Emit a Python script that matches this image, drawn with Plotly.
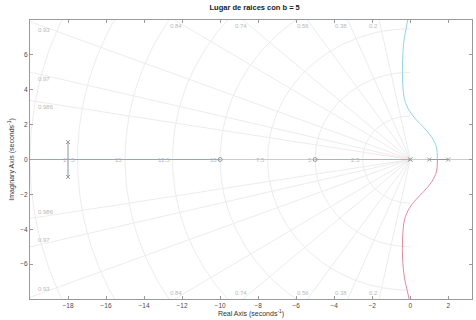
import numpy as np
import plotly.graph_objects as go

# ---- data ----
title_text = "Lugar de raices con b = 5"
x_ticks = [-18, -16, -14, -12, -10, -8, -6, -4, -2, 0, 2]
y_ticks = [-6, -4, -2, 0, 2, 4, 6]
x_range = [-20, 3.25]
y_range = [-8, 8]

pole_re = [-18, -18, 0, 0, 1, 2]
pole_im = [1, -1, 0, 0, 0, 0]
zero_re = [-5, -10]
zero_im = [0, 0]

# branch on negative real axis (from far left to zero at -10)
branch_a_x = [-20, -18, -10]
branch_a_y = [0, 0, 0]
# complex pair at -18 meeting the real axis
branch_b_x = [-18, -18, -18]
branch_b_y = [1, 0, -1]
# red segment from zero at -5 to pole at 0
branch_c_x = [-5, 0]
branch_c_y = [0, 0]
# poles at 1 and 2 meeting at breakaway
branch_d_x = [1, 1.43, 2]
branch_d_y = [0, 0, 0]
# upper branch (cyan)
upper_x = [1.43, 1.38, 1.12, 0.70, 0.30, -0.05, -0.30, -0.40, -0.40, -0.33, -0.22, -0.13]
upper_y = [0.0, 0.70, 1.30, 1.85, 2.30, 2.80, 3.45, 4.50, 5.70, 6.80, 7.50, 8.00]
# lower branch (red)
lower_x = [1.43, 1.38, 1.12, 0.70, 0.30, -0.05, -0.30, -0.40, -0.40, -0.30, -0.16, -0.06]
lower_y = [0.0, -0.70, -1.30, -1.85, -2.30, -2.80, -3.45, -4.50, -5.70, -6.80, -7.50, -8.00]

zeta_vals = [0.2, 0.38, 0.56, 0.74, 0.84, 0.93, 0.97, 0.986]
zeta_labels = ["0.2", "0.38", "0.56", "0.74", "0.84", "0.93", "0.97", "0.986"]
wn_vals = [2.5, 5, 7.5, 10, 12.5, 15, 17.5, 20]
wn_labels = ["2.5", "5", "7.5", "10", "12.5", "15", "17.5", ""]

# ---- styling ----
grid_col = "#ececec"
grid_txt = "#b8b8b8"
axis_col = "#9a9a9a"

fig = go.Figure()

xmin, xmax = x_range
ymin, ymax = y_range

# damping lines
for z in zeta_vals:
    s = np.sqrt(1 - z * z)
    t = min(-xmin / z, ymax / s)
    for sg in (1, -1):
        fig.add_trace(go.Scatter(x=[0, -z * t], y=[0, sg * s * t], mode="lines",
                                 line=dict(color=grid_col, width=1),
                                 hoverinfo="skip", showlegend=False))

# natural frequency arcs
th = np.linspace(np.pi / 2, 3 * np.pi / 2, 200)
for r in wn_vals:
    fig.add_trace(go.Scatter(x=r * np.cos(th), y=r * np.sin(th), mode="lines",
                             line=dict(color=grid_col, width=1),
                             hoverinfo="skip", showlegend=False))

# real axis line
fig.add_trace(go.Scatter(x=[xmin, xmax], y=[0, 0], mode="lines",
                         line=dict(color="#cccccc", width=1),
                         hoverinfo="skip", showlegend=False))

# locus branches
fig.add_trace(go.Scatter(x=branch_a_x, y=branch_a_y, mode="lines",
                         line=dict(color="#93a8ba", width=1), showlegend=False))
fig.add_trace(go.Scatter(x=branch_b_x, y=branch_b_y, mode="lines",
                         line=dict(color="#7f9aa6", width=1), showlegend=False))
fig.add_trace(go.Scatter(x=branch_c_x, y=branch_c_y, mode="lines",
                         line=dict(color="#e899aa", width=1), showlegend=False))
fig.add_trace(go.Scatter(x=branch_d_x, y=branch_d_y, mode="lines",
                         line=dict(color="#8d9aa8", width=1), showlegend=False))
fig.add_trace(go.Scatter(x=upper_x, y=upper_y, mode="lines", line_shape="spline",
                         line=dict(color="#8fd4e8", width=1), showlegend=False))
fig.add_trace(go.Scatter(x=lower_x, y=lower_y, mode="lines", line_shape="spline",
                         line=dict(color="#e28a9e", width=1), showlegend=False))

# poles and zeros
fig.add_trace(go.Scatter(x=pole_re, y=pole_im, mode="markers",
                         marker=dict(symbol="x-thin", size=4, color="#999999",
                                     line=dict(width=1, color="#999999")),
                         showlegend=False))
fig.add_trace(go.Scatter(x=zero_re, y=zero_im, mode="markers",
                         marker=dict(symbol="circle-open", size=4, color="#999999",
                                     line=dict(width=1, color="#999999")),
                         showlegend=False))

annotations = []
# damping labels
for z, lab in zip(zeta_vals, zeta_labels):
    s = np.sqrt(1 - z * z)
    slope = s / z
    for sg in (1, -1):
        if ymax / s * z < -xmin:  # exits through top/bottom
            yy = ymax - 0.35
            xx = -yy / slope
            annotations.append(dict(x=xx, y=sg * yy, text=lab, showarrow=False,
                                    xanchor="right", yanchor="middle", xshift=-1,
                                    font=dict(size=6, color=grid_txt)))
        else:
            xx = xmin + 0.3
            yy = -xx * slope
            annotations.append(dict(x=xx, y=sg * yy, text=lab, showarrow=False,
                                    xanchor="left", yanchor="top" if sg > 0 else "bottom",
                                    yshift=-1 if sg > 0 else 1,
                                    font=dict(size=6, color=grid_txt)))
# wn labels
for r, lab in zip(wn_vals, wn_labels):
    if lab:
        annotations.append(dict(x=-r, y=0, text=lab, showarrow=False,
                                xanchor="right", yanchor="middle", xshift=-1,
                                font=dict(size=6, color=grid_txt)))

fig.update_layout(
    width=476, height=320,
    margin=dict(l=30, r=4, t=20, b=21),
    paper_bgcolor="white", plot_bgcolor="white",
    font=dict(family="Liberation Sans, Arial, sans-serif", size=7, color="#333333"),
    title=dict(text="<b>" + title_text + "</b>", x=0.535, xanchor="center",
               y=0.985, yanchor="top", font=dict(size=7.5, color="#1a1a1a")),
    annotations=annotations,
    showlegend=False,
)
fig.update_xaxes(range=x_range, tickvals=x_ticks, ticks="inside", ticklen=3,
                 tickcolor=axis_col, showline=True, linecolor=axis_col, linewidth=1,
                 mirror="ticks", showgrid=False, zeroline=False,
                 tickfont=dict(size=6.5, color="#4a4a4a"),
                 title=dict(text="Real Axis (seconds<sup>-1</sup>)", standoff=1,
                            font=dict(size=7, color="#333333")))
fig.update_yaxes(range=y_range, tickvals=y_ticks, ticks="inside", ticklen=3,
                 tickcolor=axis_col, showline=True, linecolor=axis_col, linewidth=1,
                 mirror="ticks", showgrid=False, zeroline=False,
                 tickfont=dict(size=6.5, color="#4a4a4a"),
                 title=dict(text="Imaginary Axis (seconds<sup>-1</sup>)", standoff=4,
                            font=dict(size=7, color="#333333")))

fig.write_html("out.html",
               config={"displayModeBar": False},
               post_script="document.body.style.margin='0px';document.body.style.overflow='hidden';")
